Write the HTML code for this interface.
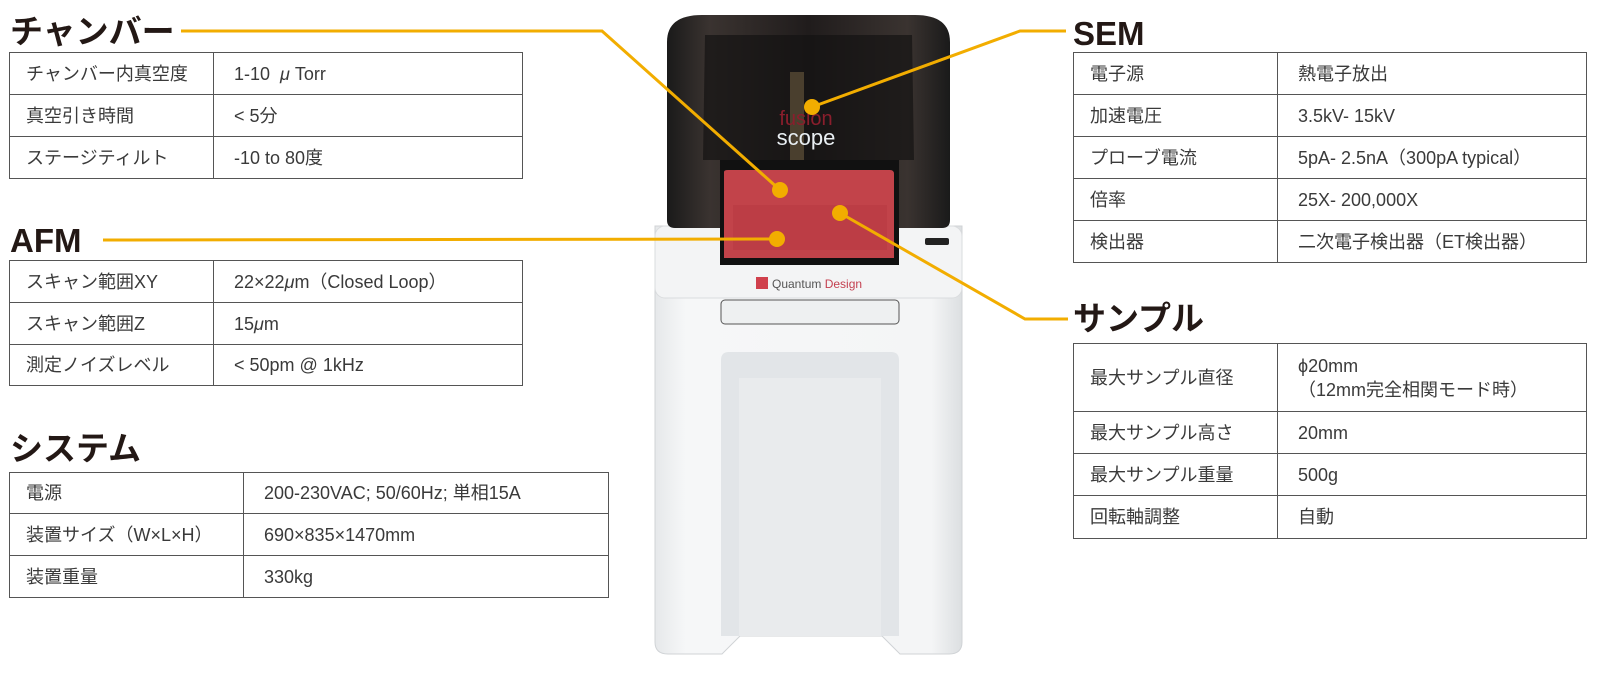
<!DOCTYPE html>
<html><head><meta charset="utf-8"><style>
body{margin:0;width:1600px;height:680px;background:#fff;position:relative;overflow:hidden;font-family:"Liberation Sans","Noto Sans CJK JP",sans-serif;color:#333}
.h{position:absolute;font-weight:bold;font-size:33px;color:#231815;line-height:1;font-family:"Liberation Sans","Noto Sans CJK JP",sans-serif}
table{position:absolute;border-collapse:collapse;font-size:18px;color:#3a3a3a}
td{border:1.5px solid #555;padding:0 0 0 16px;height:40px;box-sizing:border-box;line-height:22px;vertical-align:middle}
td span{display:inline-block;vertical-align:middle}
td.v{padding-left:20px}
svg{position:absolute;left:0;top:0}
</style></head><body>
<svg width="1600" height="680" viewBox="0 0 1600 680">
<defs>
<linearGradient id="hood" x1="0" x2="1"><stop offset="0" stop-color="#1a1a1a"/><stop offset="0.15" stop-color="#3a3330"/><stop offset="0.5" stop-color="#201c1c"/><stop offset="0.85" stop-color="#3a3330"/><stop offset="1" stop-color="#1a1a1a"/></linearGradient>
<linearGradient id="body" x1="0" x2="1"><stop offset="0" stop-color="#e6e8ea"/><stop offset="0.1" stop-color="#f6f7f8"/><stop offset="0.9" stop-color="#f4f5f6"/><stop offset="1" stop-color="#dcdfe1"/></linearGradient>
</defs>
<!-- body -->
<path d="M655 226 H962 V642 Q962 654 949 654 H900 L882 636 H740 L722 654 H668 Q655 654 655 642 Z" fill="url(#body)" stroke="#d0d3d6"/>
<rect x="655" y="226" width="307" height="72" rx="10" fill="#f3f4f5" stroke="#dadcde"/>
<rect x="721" y="300" width="178" height="24" rx="4" fill="#eef0f1" stroke="#555" stroke-width="1"/>
<path d="M721 360 Q721 352 729 352 H891 Q899 352 899 360 V636 H721 Z" fill="#e2e5e8"/>
<path d="M739 378 H881 V636 H739 Z" fill="#e9ebed"/>
<!-- hood -->
<path d="M667 42 Q667 15 702 15 H915 Q950 15 950 42 V220 Q950 228 942 228 H897 V160 H722 V228 H675 Q667 228 667 220 Z" fill="url(#hood)"/>
<path d="M705 35 H912 L914 160 H703 Z" fill="#141212" opacity="0.7"/>
<rect x="790" y="72" width="14" height="88" fill="#4a3f2e"/>
<rect x="720" y="160" width="179" height="105" fill="#111"/>
<path d="M724 172 Q724 170 728 170 H890 Q894 170 894 174 V258 H724 Z" fill="#c2434a"/>
<path d="M733 205 H887 V250 H733 Z" fill="#b83a42" opacity="0.6"/>
<rect x="925" y="238" width="24" height="7" rx="2" fill="#222"/>
<text x="806" y="125" font-size="20" fill="#8a1e2c" text-anchor="middle" font-family="Liberation Sans,sans-serif">fusion</text>
<text x="806" y="145" font-size="22" fill="#e8eef2" text-anchor="middle" font-family="Liberation Sans,sans-serif">scope</text>
<rect x="756" y="277" width="12" height="12" fill="#d0404c"/>
<text x="772" y="288" font-size="12" fill="#555" font-family="Liberation Sans,sans-serif">Quantum <tspan fill="#c44050">Design</tspan></text>
<!-- connectors -->
<g stroke="#f2ad00" stroke-width="3" fill="none">
<polyline points="181,31 602,31 780,190"/>
<polyline points="1066,31 1020,31 812,107"/>
<polyline points="103,240 777,239"/>
<polyline points="840,213 1025,319 1068,319"/>
</g>
<g fill="#f2ad00"><circle cx="780" cy="190" r="8"/><circle cx="812" cy="107" r="8"/><circle cx="777" cy="239" r="8"/><circle cx="840" cy="213" r="8"/></g>
</svg>

<div class="h" style="left:10px;top:15px">チャンバー</div>
<table style="left:9px;top:52px;width:514px">
<tr><td style="width:204px;height:42px">チャンバー内真空度</td><td class="v">1-10 &nbsp;<i>μ</i> Torr</td></tr>
<tr><td style="height:42px">真空引き時間</td><td class="v">&lt; 5分</td></tr>
<tr><td style="height:42px">ステージティルト</td><td class="v">-10 to 80度</td></tr>
</table>

<div class="h" style="left:10px;top:224px">AFM</div>
<table style="left:9px;top:260px;width:514px">
<tr><td style="width:204px;height:42px">スキャン範囲XY</td><td class="v">22×22<i>μ</i>m（Closed Loop）</td></tr>
<tr><td style="height:42px">スキャン範囲Z</td><td class="v">15<i>μ</i>m</td></tr>
<tr><td style="height:41px">測定ノイズレベル</td><td class="v">&lt; 50pm @ 1kHz</td></tr>
</table>

<div class="h" style="left:10px;top:432px">システム</div>
<table style="left:9px;top:472px;width:600px">
<tr><td style="width:234px;height:41px">電源</td><td class="v">200-230VAC; 50/60Hz; 単相15A</td></tr>
<tr><td style="height:42px">装置サイズ（W×L×H）</td><td class="v">690×835×1470mm</td></tr>
<tr><td style="height:42px">装置重量</td><td class="v">330kg</td></tr>
</table>

<div class="h" style="left:1073px;top:17px">SEM</div>
<table style="left:1073px;top:52px;width:514px">
<tr><td style="width:204px;height:42px">電子源</td><td class="v">熱電子放出</td></tr>
<tr><td style="height:42px">加速電圧</td><td class="v">3.5kV- 15kV</td></tr>
<tr><td style="height:42px">プローブ電流</td><td class="v">5pA- 2.5nA（300pA typical）</td></tr>
<tr><td style="height:42px">倍率</td><td class="v">25X- 200,000X</td></tr>
<tr><td style="height:42px">検出器</td><td class="v">二次電子検出器（ET検出器）</td></tr>
</table>

<div class="h" style="left:1073px;top:302px">サンプル</div>
<table style="left:1073px;top:343px;width:514px">
<tr><td style="width:204px;height:68px">最大サンプル直径</td><td class="v" style="line-height:24px">ϕ20mm<br>（12mm完全相関モード時）</td></tr>
<tr><td style="height:42px">最大サンプル高さ</td><td class="v">20mm</td></tr>
<tr><td style="height:42px">最大サンプル重量</td><td class="v">500g</td></tr>
<tr><td style="height:43px">回転軸調整</td><td class="v">自動</td></tr>
</table>
</body></html>
